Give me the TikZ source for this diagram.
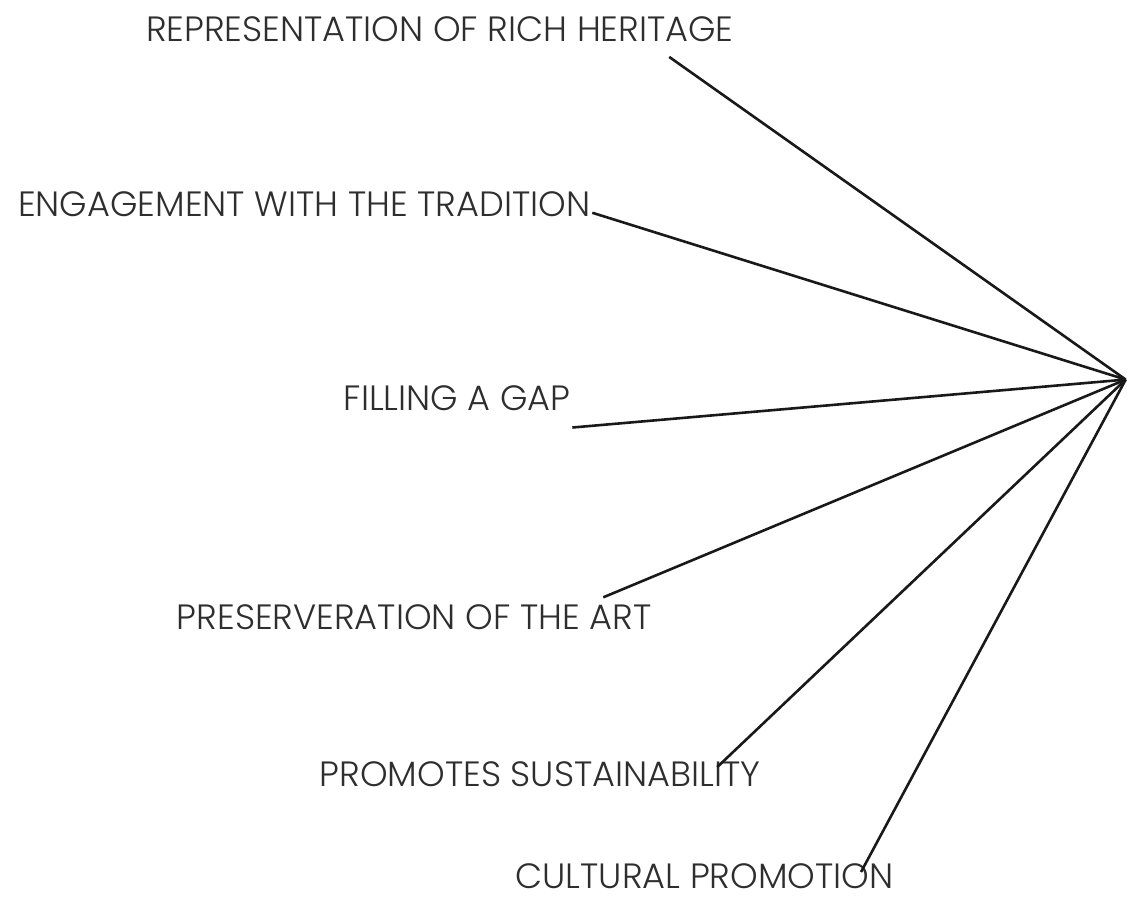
\documentclass[tikz,border=0pt]{standalone}
\usepackage{fontspec}
\setmainfont{Poppins}[UprightFont=* Light]
\begin{document}
\begin{tikzpicture}[x=1bp,y=-1bp,
  lbl/.style={anchor=base west,inner sep=0pt,font=\fontsize{35.3}{38}\selectfont,text=black!82},
  spoke/.style={line width=2.6bp,draw=black!90}]
\fill[white] (0,0) rectangle (1127,912);
\coordinate (hub) at (1127,380);
\node[lbl] (rep) at (146,42) {REPRESENTATION OF RICH HERITAGE};
\node[lbl] (eng) at (18,217) {ENGAGEMENT WITH THE TRADITION};
\node[lbl] (gap) at (344,411) {FILLING A GAP};
\node[lbl] (pres) at (177,630) {PRESERVERATION OF THE ART};
\node[lbl] (prom) at (320,787) {PROMOTES SUSTAINABILITY};
\node[lbl] (cult) at (516,890) {CULTURAL PROMOTION};
\coordinate (rep-e) at (670,57);
\coordinate (eng-e) at (593,213);
\coordinate (gap-e) at (573,428);
\coordinate (pres-e) at (604,598);
\coordinate (prom-e) at (718,768);
\coordinate (cult-e) at (862,873);
\foreach \n in {rep,eng,gap,pres,prom,cult}
  \draw[spoke] (\n-e) -- (hub);
\end{tikzpicture}
\end{document}
